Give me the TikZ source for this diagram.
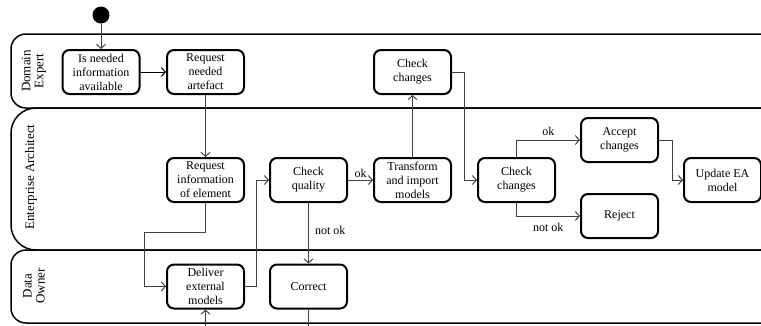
\documentclass[tikz,border=0pt]{standalone}
\usepackage{fontspec}
\setmainfont{Liberation Serif}
\usetikzlibrary{arrows.meta}
\begin{document}
\begin{tikzpicture}[x=1pt,y=-1pt,
  lane/.style={draw=black, line width=1.5pt},
  lanelabel/.style={rotate=90, align=center, font=\fontsize{13}{13}\selectfont},
  act/.style={draw=black, line width=2pt, rounded corners=7pt, minimum width=77pt, minimum height=44pt, inner sep=0pt, align=center, font=\fontsize{12}{14}\selectfont},
  conn/.style={draw=black!75, line width=1pt, -{Straight Barb[length=4pt,width=9pt]}},
  lbl/.style={font=\fontsize{12}{14}\selectfont, inner sep=2pt}]
\useasboundingbox (0,0) rectangle (761,325);
% lanes
\draw[lane, rounded corners=15pt] (11,34) rectangle (830,108);
\draw[lane, rounded corners=25pt] (11,108) rectangle (785,250);
\draw[lane, rounded corners=15pt] (11,250) rectangle (830,323);
\node[lanelabel] (lde) at (34,71) {Domain\\Expert};
\node[lanelabel] (lea) at (31,177) {Enterprise Architect};
\node[lanelabel] (ldo) at (34,286) {Data\\Owner};
% start
\node[circle, fill=black, minimum size=17pt, inner sep=0pt] (start) at (101,15) {};
% activities
\node[act] (isneeded) at (101,72) {Is needed\\information\\available};
\node[act] (reqart) at (205.5,72) {Request\\needed\\artefact};
\node[act] (chk1) at (412.5,72) {Check\\changes};
\node[act] (reqinfo) at (205.5,180) {Request\\information\\of element};
\node[act] (chkq) at (308.5,180) {Check\\quality};
\node[act] (transf) at (412.5,180) {Transform\\and import\\models};
\node[act] (chk2) at (516.5,180) {Check\\changes};
\node[act] (accept) at (619.5,140) {Accept\\changes};
\node[act] (reject) at (619.5,216) {Reject};
\node[act] (update) at (722.5,180) {Update EA\\model};
\node[act] (deliver) at (205.5,286.5) {Deliver\\external\\models};
\node[act] (correct) at (308.5,286.5) {Correct};
% connectors
\draw[conn] (start) -- (isneeded);
\draw[conn, draw=black] (isneeded) -- (reqart);
\draw[conn] (reqart) -- (reqinfo);
\draw[conn] (reqinfo.south) |- (144,232) |- (deliver.west);
\draw[conn] (deliver.east) -- ++(11,0) |- (chkq.west);
\draw[conn] (chkq) -- node[lbl, above] {ok} (transf);
\draw[conn] (chkq) -- node[lbl, right=4pt, pos=0.45] {not ok} (correct);
\draw[conn] (correct.south) -- ++(0,25) -| (deliver.south);
\draw[conn] (transf) -- (chk1);
\draw[conn] (chk1.east) -- ++(12,0) |- (chk2.west);
\draw[conn] (chk2.north) |- node[lbl, pos=0.75, above=2pt] {ok} (accept.west);
\draw[conn] (chk2.south) |- node[lbl, pos=0.75, below=5pt] {not ok} (reject.west);
\draw[conn] (accept.east) -- ++(13,0) |- (update.west);
\end{tikzpicture}
\end{document}
